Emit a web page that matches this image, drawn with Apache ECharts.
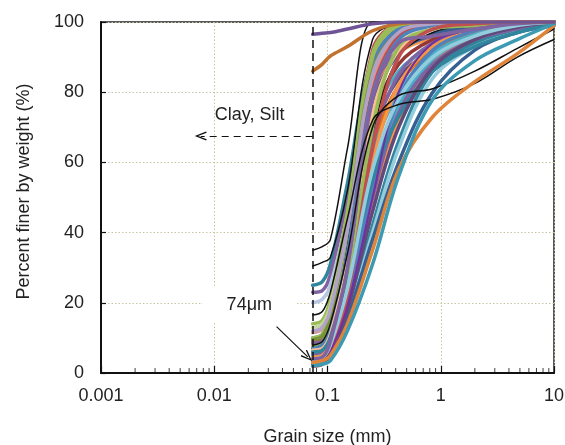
<!DOCTYPE html>
<html>
<head>
<meta charset="utf-8">
<script src="https://cdn.jsdelivr.net/npm/echarts@6/dist/echarts.min.js"></script>
<style>
html,body{margin:0;padding:0;background:#fff;}
#chart{width:565px;height:445px;}
</style>
</head>
<body>
<div id="chart"></div>
<script>
// Sieve sizes (mm) at which every curve is sampled
const sizes = [0.074, 0.09, 0.106, 0.15, 0.25, 0.425, 0.85, 2, 4.75, 10];

// Axis tick values
const yTicks = [0, 20, 40, 60, 80, 100];
const xDecades = [0.001, 0.01, 0.1, 1, 10];
const xMinorTicks = [0.002,0.003,0.004,0.005,0.006,0.007,0.008,0.009,
  0.02,0.03,0.04,0.05,0.06,0.07,0.08,0.09,
  0.2,0.3,0.4,0.5,0.6,0.7,0.8,0.9,
  2,3,4,5,6,7,8,9];

// Percent finer values for each curve (same order as sizes)
const topPurple = [96.5, 96.8, 97, 98, 99.5, 100, 100, 100, 100, 100];
const topOrange = [86, 88, 90.3, 93, 97.5, 99.5, 100, 100, 100, 100];
const k1 = [35, 36, 38, 64, 100, 100, 100, 100, 100, 100];
const k2 = [30.5, 31.5, 33, 52, 95, 99.5, 100, 100, 100, 100];
const k3 = [16.5, 17.5, 23, 44, 72, 76.5, 78, 82.5, 90, 95];
const k4 = [8, 9, 14, 34, 70, 79, 81, 86, 92.5, 98];
const k5 = [5, 6, 11, 36, 86, 97, 99.5, 100, 100, 100];
const k6 = [3, 4, 8, 26, 68, 90, 97, 99.5, 100, 100];
const c01 = [25, 26, 31, 54, 90, 98, 99.5, 100, 100, 100];
const c02 = [23, 23.5, 28, 50, 87, 97, 99, 100, 100, 100];
const c03 = [20, 21, 25, 45, 84, 96, 99, 100, 100, 100];
const c04 = [14, 15, 21, 46, 89, 99, 100, 100, 100, 100];
const c05 = [11.5, 12.5, 17, 40, 83, 96, 99, 100, 100, 100];
const c06 = [13, 14, 19, 42, 80, 94, 98, 99.5, 100, 100];
const c07 = [10, 11, 16, 42, 88, 98, 100, 100, 100, 100];
const c08 = [9, 10, 15, 40, 92, 99.5, 100, 100, 100, 100];
const c09 = [8, 9, 13, 34, 78, 91, 95.5, 98, 99.5, 100];
const c10 = [8.5, 9, 14, 38, 80, 92, 96, 98.5, 99.5, 100];
const c11 = [7, 8, 12, 33, 72, 86, 93, 97, 99, 100];
const c12 = [7.5, 8.5, 14, 40, 90, 99, 100, 100, 100, 100];
const c13 = [6.5, 7, 11, 30, 68, 84, 92, 96.5, 99, 100];
const c14 = [6, 7, 11, 32, 76, 91, 96.5, 99, 100, 100];
const c15 = [5, 6, 10, 30, 72, 88, 95, 98, 99.5, 100];
const c16 = [5.5, 6, 10, 28, 64, 82, 92, 97, 99, 100];
const c17 = [4.5, 5, 8, 24, 56, 76, 89, 95.5, 98.5, 99.5];
const c18 = [4, 4.5, 8, 25, 60, 82, 93, 97.5, 99.5, 100];
const c19 = [4, 4.5, 7.5, 22, 52, 74, 88, 95, 98.5, 100];
const c20 = [3.5, 4, 7, 20, 48, 72, 88, 95, 98, 99.5];
const c21 = [3, 3.5, 6, 17, 42, 66, 86, 94, 97.5, 99.5];
const c22 = [3, 3.5, 6.5, 20, 50, 74, 88, 95, 98, 99.5];
const c23 = [2.5, 3, 5, 16, 40, 64, 84, 93, 97, 99];
const c26 = [4, 4.5, 6, 16, 38, 60, 80, 92, 97, 99];
const c27 = [10, 11, 17, 44, 91, 99.5, 100, 100, 100, 100];
const c28 = [9.5, 10.5, 16, 41, 86, 97, 99.5, 100, 100, 100];
const c29 = [6, 7, 11, 33, 80, 96, 99.5, 100, 100, 100];
const c30 = [7, 8, 12, 34, 79, 95, 99, 100, 100, 100];
const c31 = [12, 13, 18, 41, 85, 97, 99.5, 100, 100, 100];
const c32 = [6.5, 7, 11, 31, 74, 92, 98, 99.5, 100, 100];
const c33 = [5, 5.5, 9, 27, 62, 80, 91, 96.5, 99, 100];
const c34 = [5.5, 6, 10, 29, 66, 85, 94, 98, 99.5, 100];
const c35 = [4.5, 5, 8.5, 26, 60, 82, 93, 97.5, 99.5, 100];
const c36 = [3.5, 4, 7, 21, 52, 78, 92, 97.5, 99.5, 100];
const c37 = [6, 6.5, 10, 26, 55, 73, 86, 93, 97, 99.5];
const c38 = [2.5, 3, 5.5, 18, 46, 70, 87, 95, 98.5, 100];
const c39 = [3, 3.5, 7, 24, 70, 93, 98, 99, 99.5, 100];
const c40 = [2, 2.5, 5.5, 22, 64, 90, 98, 99.5, 100, 100];
const c41 = [3, 3.5, 6, 19, 50, 80, 94, 98, 99.5, 100];
const c42 = [4, 4.5, 8, 24, 58, 78, 90, 96, 99, 100];
const c43 = [4, 4.5, 9, 30, 78, 94, 96, 98, 99.5, 100];
const c24 = [3, 3.5, 5, 14, 35, 58, 73, 83, 91, 99];
const c25 = [2, 2.5, 3.5, 12, 31, 56, 78, 89, 95, 99.5];

// Annotation values
const boundarySize = 0.074;
const claySiltArrow = [[0.074, 67.5], [0.0076, 67.5]];
const claySiltLabel = [0.0205, 73.5];
const umArrow = [[0.0355, 13.2], [0.067, 4.6]];
const umLabel = [0.0204, 19.4];

// Curve drawing order and styles (kept separate from values)
const curves = [
  c01,c02,c03,c04,c05,c06,c07,c08,c09,c10,c11,c12,c13,c14,c15,c16,c17,c18,c19,c20,
  k1,k2,k5,k6,
  c21,c22,c23,c26,c27,c28,c29,c30,c31,c32,c33,c34,c35,c36,c37,c38,c39,c40,c41,c42,c43,
  k3,k4,c24,c25,topOrange,topPurple
];
const curveColors = [
  '#31859C','#8064A2','#B7C6E2','#9BBB59','#D99694','#C3D69B','#4F81BD','#C0504D','#F79646','#8064A2',
  '#4BACC6','#9BBB59','#604A7B','#376092','#953735','#E46C0A','#4BACC6','#7030A0','#4F81BD','#F79646',
  '#111','#111','#111','#111',
  '#31859C','#8064A2','#93CDDD','#366092','#9BBB59','#77933C','#C0504D','#4F81BD','#B3A2C7','#FAC090',
  '#4BACC6','#8064A2','#F79646','#4F81BD','#31859C','#604A7B','#9BBB59','#C0504D','#7030A0','#93CDDD','#8064A2',
  '#111','#111','#E0843A','#3C9AB2','#C0722E','#6E5494'
];
const curveWidths = curves.map((c, i) => {
  const col = curveColors[i];
  if (col === '#111') return 1.5;
  if (col === '#7030A0') return 2;
  return 3.5;
});

const chart = echarts.init(document.getElementById('chart'), null, {renderer: 'canvas'});
const FONT = 'Liberation Sans, Arial, sans-serif';
const TXT = '#222';

const lineSeries = curves.map((vals, i) => ({
  type: 'line',
  data: sizes.map((s, j) => [s, vals[j]]),
  showSymbol: false,
  smooth: 0.35,
  lineStyle: {color: curveColors[i], width: curveWidths[i], cap: 'round', join: 'round'},
  itemStyle: {color: curveColors[i]},
  silent: true,
  z: 3
}));

const chevron = 'path://M0,10 L5,0 L10,10 L8.6,10.6 L5,3 L1.4,10.6 Z';

const annotationSeries = {
  type: 'scatter',
  data: xMinorTicks.map(v => [v, 0]),
  symbol: 'rect',
  symbolSize: [1, 5],
  symbolOffset: [0, -2.5],
  itemStyle: {color: '#111'},
  clip: false,
  silent: true,
  z: 5,
  markLine: {
    silent: true,
    symbol: ['none', 'none'],
    label: {show: false},
    animation: false,
    data: [
      [{coord: [boundarySize, 0], lineStyle: {type: [8, 5], color: '#111', width: 1.5}},
       {coord: [boundarySize, 99.5]}],
      [{coord: claySiltArrow[0], symbol: 'none', lineStyle: {type: [7, 5], color: '#111', width: 1.2}},
       {coord: claySiltArrow[1], symbol: chevron, symbolSize: [9, 12]}],
      [{coord: umArrow[0], symbol: 'none', lineStyle: {type: 'solid', color: '#111', width: 1.2}},
       {coord: umArrow[1], symbol: chevron, symbolSize: [9, 12]}]
    ]
  },
  markPoint: {
    silent: true,
    symbol: 'circle',
    symbolSize: 0,
    animation: false,
    data: [
      {coord: claySiltLabel, label: {show: true, position: 'inside', formatter: 'Clay, Silt',
        fontSize: 18, fontFamily: FONT, color: TXT}},
      {coord: umLabel, label: {show: true, position: 'inside', formatter: '74μm',
        fontSize: 18, fontFamily: FONT, color: TXT, backgroundColor: '#fff', padding: [8, 24]}}
    ]
  }
};

chart.setOption({
  animation: false,
  backgroundColor: '#fff',
  grid: {left: 101, right: 11, top: 22, bottom: 72, show: true, borderColor: '#222', borderWidth: 1.5,
    backgroundColor: 'transparent', containLabel: false, outerBoundsMode: 'none'},
  xAxis: {
    type: 'log', logBase: 10, min: xDecades[0], max: xDecades[xDecades.length - 1],
    name: 'Grain size (mm)', nameLocation: 'middle', nameGap: 55,
    nameTextStyle: {fontSize: 18, fontFamily: FONT, color: TXT},
    axisLine: {show: true, lineStyle: {color: '#111', width: 2}},
    axisTick: {show: true, inside: true, length: 7, lineStyle: {color: '#111', width: 1.2}},
    axisLabel: {fontSize: 18, fontFamily: FONT, color: TXT, margin: 14,
      formatter: v => String(Number(Number(v).toPrecision(3)))},
    splitLine: {show: true, lineStyle: {color: '#c8c4a2', type: [1.5, 2], width: 1}},
    minorTick: {show: false}
  },
  yAxis: {
    type: 'value', min: yTicks[0], max: yTicks[yTicks.length - 1], interval: yTicks[1] - yTicks[0],
    name: 'Percent finer by weight (%)', nameLocation: 'middle', nameGap: 68,
    nameTextStyle: {fontSize: 18, fontFamily: FONT, color: TXT, padding: [0, 0, 0, 12]},
    axisLine: {show: true, lineStyle: {color: '#111', width: 2}},
    axisTick: {show: true, inside: true, length: 5, lineStyle: {color: '#111', width: 1.2}},
    axisLabel: {fontSize: 18, fontFamily: FONT, color: TXT, margin: 17},
    splitLine: {show: true, lineStyle: {color: '#c8c4a2', type: [1.5, 2], width: 1}}
  },
  series: lineSeries.concat([annotationSeries])
});
</script>
</body>
</html>
